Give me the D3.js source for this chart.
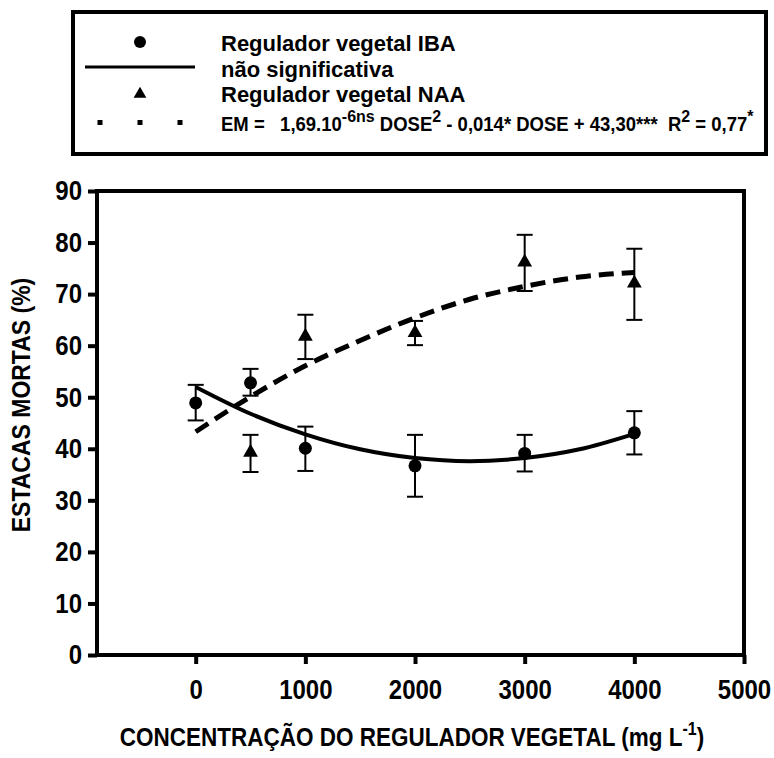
<!DOCTYPE html>
<html>
<head>
<meta charset="utf-8">
<script src="https://cdn.jsdelivr.net/npm/d3@7"></script>
<style>
  body { margin: 0; background: #fff; }
  svg text { font-family: "Liberation Sans", Arial, sans-serif; font-weight: bold; fill: #000; }
</style>
</head>
<body>
<div id="chart"></div>
<script>
// doses of the plant regulator (mg L-1)
const ibaDoses = [0, 500, 1000, 2000, 3000, 4000];
const ibaMean  = [48.9, 52.8, 40.1, 36.7, 39.1, 43.1];
const ibaUpper = [52.4, 55.5, 44.3, 42.7, 42.7, 47.3];
const ibaLower = [45.5, 50.3, 35.7, 30.7, 35.6, 38.9];

const naaDoses = [500, 1000, 2000, 3000, 4000];
const naaMean  = [39.3, 61.8, 62.5, 76.2, 72.1];
const naaUpper = [42.7, 66.0, 64.8, 81.5, 78.8];
const naaLower = [35.5, 57.4, 60.1, 70.6, 65.0];

// fitted curves
const fitDoses = [0, 500, 1000, 1500, 2000, 2500, 3000, 3500, 4000];
const ibaFit   = [52.0, 46.8, 42.8, 39.9, 38.2, 37.6, 38.2, 39.9, 42.9];
const naaFit   = [43.3, 50.1, 56.1, 61.0, 65.4, 69.0, 71.5, 73.3, 74.2];

const xTicks = [0, 1000, 2000, 3000, 4000, 5000];
const yTicks = [0, 10, 20, 30, 40, 50, 60, 70, 80, 90];

const width = 774, height = 758;
const plot = { left: 97, right: 744, top: 191, bottom: 655 };
const stretch = 1.15; // the original lettering is a bit taller than Arial

const svg = d3.select('#chart').append('svg')
  .attr('width', width)
  .attr('height', height);

const x = d3.scaleLinear().domain([-900, 5000]).range([plot.left, plot.right]);
const y = d3.scaleLinear().domain([0, 90]).range([plot.bottom, plot.top]);

// axes
const yAxis = d3.axisLeft(y).tickValues(yTicks).tickSize(9).tickPadding(6).tickFormat(d3.format('d'));
const xAxis = d3.axisBottom(x).tickValues(xTicks).tickSize(9).tickPadding(16).tickFormat(d3.format('d'));

const gy = svg.append('g').attr('transform', `translate(${plot.left},0)`).call(yAxis);
const gx = svg.append('g').attr('transform', `translate(0,${plot.bottom})`).call(xAxis);
[gx, gy].forEach(g => {
  g.select('.domain').remove();
  g.selectAll('.tick line').attr('stroke', '#000').attr('stroke-width', 4);
  g.selectAll('.tick text')
    .attr('font-size', 24)
    .attr('transform', `scale(1,${stretch})`)
    .style('font-family', '"Liberation Sans", Arial, sans-serif')
    .style('font-weight', 'bold');
});
gx.selectAll('.tick text').attr('y', 21);

// frame round the plot
svg.append('rect')
  .attr('x', plot.left).attr('y', plot.top)
  .attr('width', plot.right - plot.left).attr('height', plot.bottom - plot.top)
  .attr('fill', 'none').attr('stroke', '#000').attr('stroke-width', 4);

// axis titles
const xTitle = svg.append('text')
  .attr('transform', `translate(412,746) scale(1,${stretch})`)
  .attr('text-anchor', 'middle')
  .attr('font-size', 22.5);
xTitle.append('tspan').text('CONCENTRAÇÃO DO REGULADOR VEGETAL (mg L');
xTitle.append('tspan').attr('font-size', 16).attr('dy', -10).text('-1');
xTitle.append('tspan').attr('dy', 10).text(')');

svg.append('text')
  .attr('transform', `translate(30,405) rotate(-90) scale(1,${stretch})`)
  .attr('text-anchor', 'middle')
  .attr('font-size', 23)
  .text('ESTACAS MORTAS (%)');

// fitted curves
const line = d3.line().x(d => x(d[0])).y(d => y(d[1])).curve(d3.curveMonotoneX);

svg.append('path')
  .attr('d', line(fitDoses.map((d, i) => [d, naaFit[i]])))
  .attr('fill', 'none').attr('stroke', '#000').attr('stroke-width', 5)
  .attr('stroke-dasharray', '15,8');

svg.append('path')
  .attr('d', line(fitDoses.map((d, i) => [d, ibaFit[i]])))
  .attr('fill', 'none').attr('stroke', '#000').attr('stroke-width', 4);

// error bars
function errorBars(doses, lower, upper) {
  const g = svg.append('g').attr('stroke', '#000').attr('stroke-width', 2);
  doses.forEach((d, i) => {
    g.append('line').attr('x1', x(d)).attr('x2', x(d)).attr('y1', y(lower[i])).attr('y2', y(upper[i]));
    [lower[i], upper[i]].forEach(v => {
      g.append('line').attr('x1', x(d) - 8).attr('x2', x(d) + 8).attr('y1', y(v)).attr('y2', y(v));
    });
  });
}
errorBars(ibaDoses, ibaLower, ibaUpper);
errorBars(naaDoses, naaLower, naaUpper);

// markers
const triangle = d3.symbol().type(d3.symbolTriangle).size(95);

svg.selectAll('.iba')
  .data(ibaDoses)
  .join('circle')
  .attr('class', 'iba')
  .attr('cx', d => x(d))
  .attr('cy', (d, i) => y(ibaMean[i]))
  .attr('r', 6.5)
  .attr('fill', '#000');

svg.selectAll('.naa')
  .data(naaDoses)
  .join('path')
  .attr('class', 'naa')
  .attr('d', triangle)
  .attr('transform', (d, i) => `translate(${x(d)},${y(naaMean[i])})`)
  .attr('fill', '#000');

// legend box
const legend = svg.append('g');
legend.append('rect')
  .attr('x', 73).attr('y', 12).attr('width', 693).attr('height', 142)
  .attr('fill', 'none').attr('stroke', '#000').attr('stroke-width', 4);

legend.append('circle').attr('cx', 140).attr('cy', 42).attr('r', 6).attr('fill', '#000');
legend.append('line').attr('x1', 85).attr('x2', 195).attr('y1', 67).attr('y2', 67)
  .attr('stroke', '#000').attr('stroke-width', 3);
legend.append('path').attr('d', d3.symbol().type(d3.symbolTriangle).size(70))
  .attr('transform', 'translate(140,94)').attr('fill', '#000');
[100, 140, 180].forEach(cx => {
  legend.append('rect').attr('x', cx - 2.5).attr('y', 120).attr('width', 5).attr('height', 5).attr('fill', '#000');
});

const labels = ['Regulador vegetal IBA', 'não significativa', 'Regulador vegetal NAA'];
const baselines = [51, 76.5, 102];
labels.forEach((t, i) => {
  legend.append('text')
    .attr('x', 221).attr('y', baselines[i])
    .attr('font-size', 22)
    .text(t);
});

// regression equation with superscripts
const eq = legend.append('text')
  .attr('transform', `translate(221,131) scale(1,1.08)`)
  .attr('font-size', 18.5)
  .style('white-space', 'pre');
const parts = [
  ['EM =   1,69.10', 0], ['-6ns', 1], [' DOSE', 0], ['2', 1],
  [' - 0,014* DOSE + 43,30***  R', 0], ['2', 1], [' = 0,77', 0], ['*', 1]
];
let raised = false;
parts.forEach(([t, sup]) => {
  const dy = sup && !raised ? -8 : (!sup && raised ? 8 : 0);
  raised = !!sup;
  eq.append('tspan').attr('dy', dy).attr('font-size', sup ? 16 : 18.5).text(t);
});
</script>
</body>
</html>
